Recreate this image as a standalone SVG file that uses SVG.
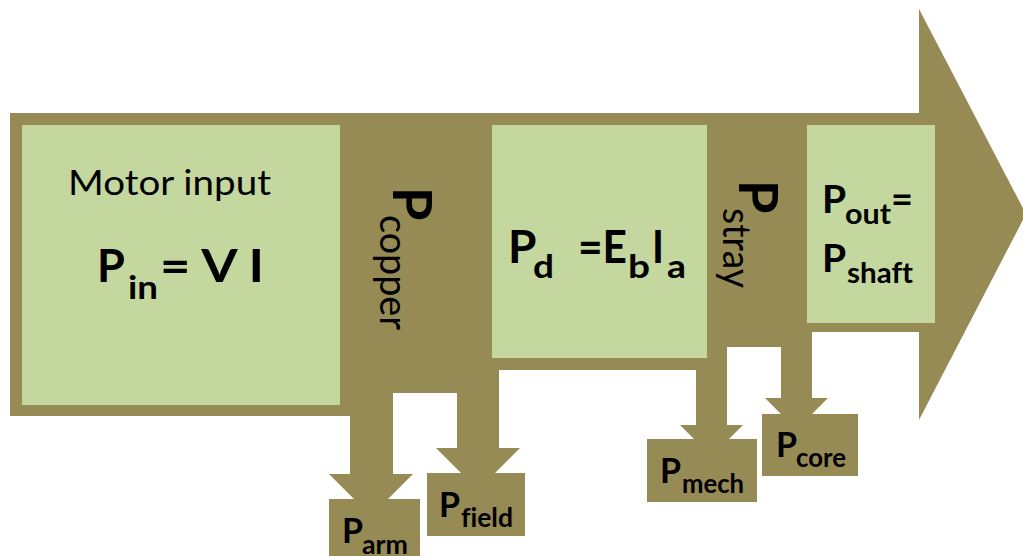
<svg xmlns="http://www.w3.org/2000/svg" width="1023" height="556" viewBox="0 0 1023 556">
  <style>
    .olive { fill: #968A55; }
    .green { fill: #C4D79E; }
    text { font-family: Lato, "Open Sans", sans-serif; fill: #000; font-variant-ligatures: none; font-feature-settings: "liga" 0; }
    .b { font-weight: bold; }
    .r { font-weight: normal; }
  </style>
  <rect width="1023" height="556" fill="#fff"/>

  <!-- main power-flow arrow with stepped lower edge -->
  <g id="flow-body">
    <path class="olive" d="M10,113 H919 V9 L1026,214 L919,420 V332 H812 V347 H727 V370 H499 V393 H393 V416 H10 Z"/>
  </g>

  <!-- loss branches leaving the main flow -->
  <g id="connectors">
    <path class="olive" d="M350,400 H393 V474 H413 L371,516 L329,474 H350 Z"/>
    <path class="olive" d="M457,385 H499 V448 H520 L478,490 L436,448 H457 Z"/>
    <path class="olive" d="M696,360 H727 V425 H743 L711.5,456.5 L680,425 H696 Z"/>
    <path class="olive" d="M781,340 H812 V398 H828 L796.5,429.5 L765,398 H781 Z"/>
  </g>

  <g id="input">
    <rect class="green" x="22" y="125" width="318" height="280"/>
    <text class="r" x="68" y="195" font-size="35" textLength="203" lengthAdjust="spacingAndGlyphs">Motor input</text>
    <text class="b" x="97" y="282" font-size="45">P</text>
    <text class="b" x="128" y="299" font-size="33" textLength="30" lengthAdjust="spacingAndGlyphs">in</text>
    <text class="b" x="160" y="282" font-size="45" textLength="104" lengthAdjust="spacingAndGlyphs">= V I</text>
  </g>

  <g id="copper-loss">
    <g transform="translate(393,187) rotate(90)">
      <text class="b" x="0" y="0" font-size="54">P</text>
      <text class="r" x="28" y="13" font-size="38" textLength="115" lengthAdjust="spacingAndGlyphs">copper</text>
    </g>
  </g>

  <g id="developed">
    <rect class="green" x="492" y="125" width="215" height="233"/>
    <text class="b" x="508" y="263" font-size="46">P</text>
    <text class="b" x="533" y="278" font-size="32" textLength="21" lengthAdjust="spacingAndGlyphs">d</text>
    <text class="b" x="578" y="263" font-size="46" textLength="49" lengthAdjust="spacingAndGlyphs">=E</text>
    <text class="b" x="628" y="278" font-size="32" textLength="22" lengthAdjust="spacingAndGlyphs">b</text>
    <text class="b" x="652" y="263" font-size="46" textLength="12" lengthAdjust="spacingAndGlyphs">I</text>
    <text class="b" x="667" y="278" font-size="32" textLength="19" lengthAdjust="spacingAndGlyphs">a</text>
  </g>

  <g id="stray-loss">
    <g transform="translate(739,180) rotate(90)">
      <text class="b" x="0" y="0" font-size="54">P</text>
      <text class="r" x="28" y="16" font-size="38" textLength="80" lengthAdjust="spacingAndGlyphs">stray</text>
    </g>
  </g>

  <g id="output">
    <rect class="green" x="807" y="125" width="128" height="198"/>
    <text class="b" x="822" y="213" font-size="39">P</text>
    <text class="b" x="845" y="224" font-size="28" textLength="46" lengthAdjust="spacingAndGlyphs">out</text>
    <text class="b" x="891" y="213" font-size="39" textLength="22" lengthAdjust="spacingAndGlyphs">=</text>
    <text class="b" x="822" y="272" font-size="39">P</text>
    <text class="b" x="847" y="283" font-size="28" textLength="66" lengthAdjust="spacingAndGlyphs">shaft</text>
  </g>

  <g id="armature-loss">
    <rect class="olive" x="329" y="499" width="91" height="60"/>
    <text class="b" x="342" y="543" font-size="34">P</text>
    <text class="b" x="362" y="554" font-size="26" textLength="46" lengthAdjust="spacingAndGlyphs">arm</text>
  </g>

  <g id="field-loss">
    <rect class="olive" x="427" y="473" width="98" height="63"/>
    <text class="b" x="439" y="517" font-size="34">P</text>
    <text class="b" x="461" y="527" font-size="26" textLength="52" lengthAdjust="spacingAndGlyphs">field</text>
  </g>

  <g id="mechanical-loss">
    <rect class="olive" x="647" y="439" width="110" height="63"/>
    <text class="b" x="660" y="483" font-size="34">P</text>
    <text class="b" x="682" y="493" font-size="26" textLength="62" lengthAdjust="spacingAndGlyphs">mech</text>
  </g>

  <g id="core-loss">
    <rect class="olive" x="762" y="414" width="96" height="62"/>
    <text class="b" x="776" y="457" font-size="34">P</text>
    <text class="b" x="796" y="467" font-size="26" textLength="50" lengthAdjust="spacingAndGlyphs">core</text>
  </g>
</svg>
